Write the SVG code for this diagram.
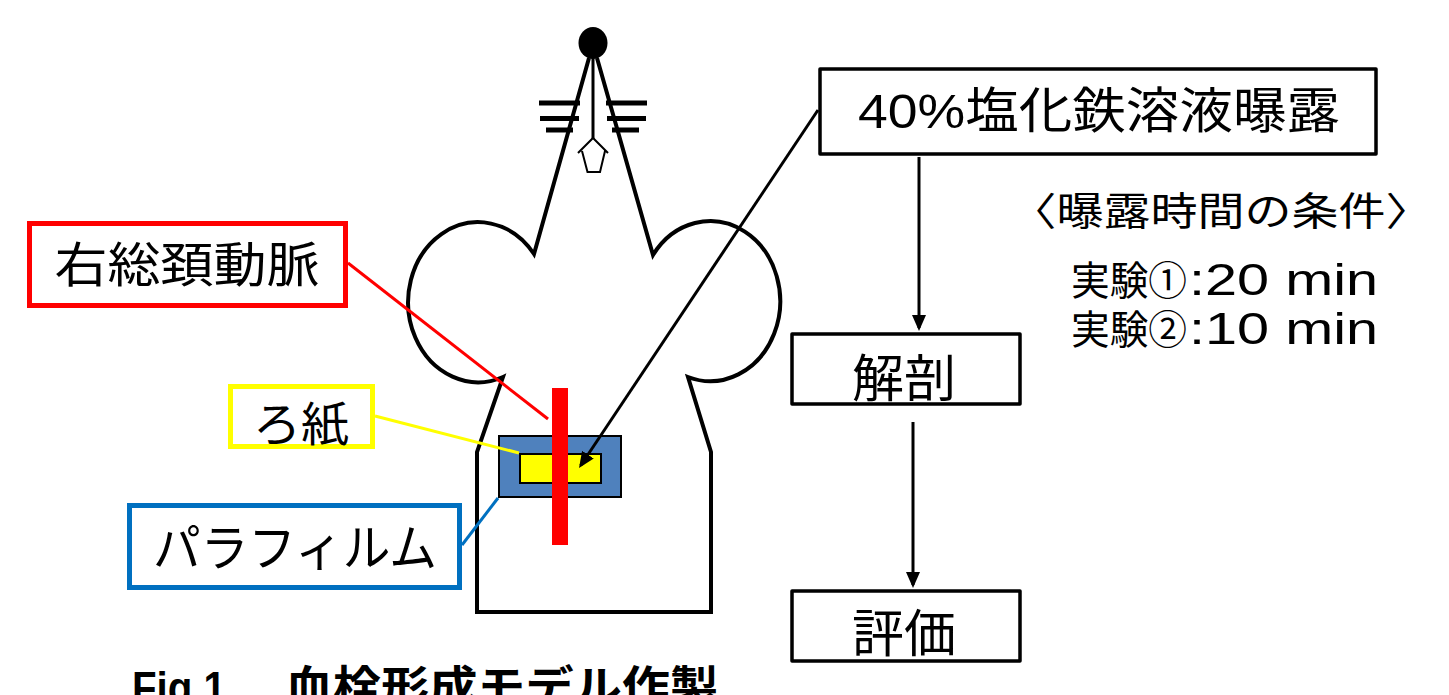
<svg xmlns="http://www.w3.org/2000/svg" width="1449" height="695" viewBox="0 0 1449 695">
  <style>
    .jp { font-family: "Liberation Sans", "Noto Sans CJK JP", sans-serif; fill: #000; }
    .box { fill: #fff; stroke: #000; stroke-width: 3.5; stroke-linejoin: round; }
    .outline { fill: #fff; stroke: #000; stroke-width: 4; stroke-linejoin: miter; }
    .thin { fill: none; stroke: #000; stroke-width: 2; }
    .bar { stroke: #000; stroke-width: 5; }
    .conn { fill: none; stroke: #000; stroke-width: 3; }
  </style>
  <defs>
    <marker id="arrow" markerUnits="userSpaceOnUse" markerWidth="16" markerHeight="14" refX="13" refY="7" orient="auto">
      <path d="M0,0 L16,7 L0,14 Z" fill="#000"/>
    </marker>
  </defs>

  <rect width="1449" height="695" fill="#fff"/>

  <!-- mouse silhouette -->
  <g id="mouse">
    <path class="outline" d="M589,58 L534,254 A70,80 0 1 0 503,377 L477,452 L477,612 L711,612 L711,452 L688,377 A70,80 0 1 0 653,255 L597,58"/>
    <ellipse cx="593" cy="43" rx="14.5" ry="16" fill="#000"/>
    <line x1="593" y1="55" x2="593" y2="139" stroke="#000" stroke-width="3"/>
    <path class="thin" d="M578,153 L593,138 L608,153 M582,151 L587.5,172 L600,172 L605,151"/>
    <!-- whiskers -->
    <line class="bar" x1="539" y1="103" x2="580" y2="103"/>
    <line class="bar" x1="540" y1="118.5" x2="579" y2="118.5"/>
    <line class="bar" x1="546" y1="130" x2="573" y2="130"/>
    <line class="bar" x1="606" y1="103" x2="647" y2="103"/>
    <line class="bar" x1="607" y1="118.5" x2="646" y2="118.5"/>
    <line class="bar" x1="612" y1="130" x2="639" y2="130"/>
  </g>

  <!-- parafilm, filter paper and carotid artery -->
  <g id="site">
    <rect x="499" y="436" width="122" height="61" fill="#4F81BD" stroke="#000" stroke-width="2"/>
    <rect x="520" y="454" width="81" height="29" fill="#FFFF00" stroke="#000" stroke-width="2"/>
    <rect x="552" y="388" width="16" height="157" fill="#FF0000"/>
  </g>

  <!-- connectors and leader lines -->
  <g id="connectors">
    <line x1="348" y1="263" x2="548" y2="419" stroke="#FF0000" stroke-width="3"/>
    <line x1="375" y1="416" x2="519" y2="453" stroke="#FFFF00" stroke-width="3"/>
    <line x1="462" y1="545" x2="498" y2="498" stroke="#0070C0" stroke-width="3"/>
    <line class="conn" x1="818" y1="110" x2="580.7" y2="465.5" marker-end="url(#arrow)"/>
    <line class="conn" x1="919" y1="157" x2="919" y2="328" marker-end="url(#arrow)"/>
    <line class="conn" x1="913" y1="422" x2="913" y2="585" marker-end="url(#arrow)"/>
  </g>

  <g id="label-carotid">
    <rect x="29.5" y="223.5" width="316" height="82" fill="#fff" stroke="#FF0000" stroke-width="5"/>
    <text class="jp" x="187" y="282" font-size="48" text-anchor="middle" textLength="265" lengthAdjust="spacingAndGlyphs">右総頚動脈</text>
  </g>

  <g id="label-filter">
    <rect x="230.5" y="386.5" width="142" height="60" fill="#fff" stroke="#FFFF00" stroke-width="5"/>
    <text class="jp" x="301" y="441" font-size="47" text-anchor="middle" textLength="96" lengthAdjust="spacingAndGlyphs">ろ紙</text>
  </g>

  <g id="label-parafilm">
    <rect x="129.5" y="505.5" width="330" height="82" fill="#fff" stroke="#0070C0" stroke-width="5"/>
    <text class="jp" x="295" y="566" font-size="50" text-anchor="middle" textLength="284" lengthAdjust="spacingAndGlyphs">パラフィルム</text>
  </g>

  <g id="box-fecl3">
    <rect class="box" x="820" y="69" width="556" height="85"/>
    <text class="jp" x="1099" y="128" font-size="49" text-anchor="middle" textLength="482" lengthAdjust="spacingAndGlyphs">40%塩化鉄溶液曝露</text>
  </g>

  <g id="box-dissect">
    <rect class="box" x="792" y="334" width="228" height="70"/>
    <text class="jp" x="904" y="397" font-size="51" text-anchor="middle" textLength="104" lengthAdjust="spacingAndGlyphs">解剖</text>
  </g>

  <g id="box-eval">
    <rect class="box" x="792" y="591" width="228" height="70"/>
    <text class="jp" x="904" y="652" font-size="51" text-anchor="middle" textLength="104" lengthAdjust="spacingAndGlyphs">評価</text>
  </g>

  <g id="conditions">
    <text class="jp" x="1221" y="225" font-size="39" text-anchor="middle" textLength="423" lengthAdjust="spacingAndGlyphs">〈曝露時間の条件〉</text>
    <text class="jp" x="1071" y="295" font-size="40" textLength="116" lengthAdjust="spacingAndGlyphs">実験①</text>
    <text class="jp" x="1189" y="295" font-size="44" textLength="189" lengthAdjust="spacingAndGlyphs">:20 min</text>
    <text class="jp" x="1071" y="344" font-size="40" textLength="116" lengthAdjust="spacingAndGlyphs">実験②</text>
    <text class="jp" x="1189" y="344" font-size="44" textLength="189" lengthAdjust="spacingAndGlyphs">:10 min</text>
  </g>

  <g id="title">
    <text class="jp" x="132" y="703" font-size="44" font-weight="bold" textLength="94" lengthAdjust="spacingAndGlyphs">Fig.1</text>
    <text class="jp" x="285" y="703" font-size="44" font-weight="bold" textLength="433" lengthAdjust="spacingAndGlyphs">血栓形成モデル作製</text>
  </g>
</svg>
